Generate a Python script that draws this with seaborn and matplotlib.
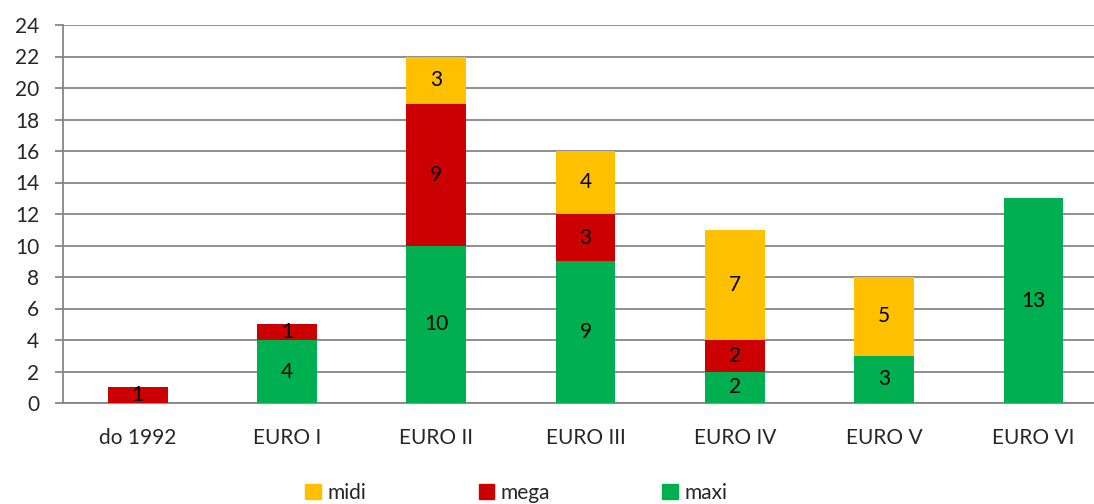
import numpy as np
import pandas as pd
import matplotlib.pyplot as plt
import seaborn as sns
from matplotlib.patches import Patch

categories = ['do 1992', 'EURO I', 'EURO II', 'EURO III', 'EURO IV', 'EURO V', 'EURO VI']
maxi = [0, 4, 10, 9, 2, 3, 13]
mega = [1, 1, 9, 3, 2, 0, 0]
midi = [0, 0, 3, 4, 7, 5, 0]

colors = {'maxi': '#00B050', 'mega': '#CC0000', 'midi': '#FFC000'}
grid_col = '#868686'
fs = 15

sns.set_style('white')
plt.rcParams['font.family'] = ['Lato', 'DejaVu Sans']
plt.rcParams['font.size'] = fs

fig = plt.figure(figsize=(10.94, 5.04), dpi=100)
ax = fig.add_axes([63 / 1094, 101 / 504, 1 - 63 / 1094, 378 / 504])

bottom = np.zeros(len(categories))
for name, vals in [('maxi', maxi), ('mega', mega), ('midi', midi)]:
    sns.barplot(x=categories, y=vals, color=colors[name], width=0.4,
                bottom=bottom, ax=ax, saturation=1, linewidth=0, zorder=3)
    cont = ax.containers[-1]
    ax.bar_label(cont, labels=[str(v) if v else '' for v in vals],
                 label_type='center', fontsize=fs, color='black')
    bottom = bottom + np.array(vals)

ax.set_ylim(0, 24)
ax.set_yticks(range(0, 25, 2))
ax.set_xlim(-0.5, 6.5 - 14 / 149)
ax.yaxis.grid(True, color=grid_col, linewidth=1.3, zorder=0)
ax.set_axisbelow(True)

for s in ['top', 'right']:
    ax.spines[s].set_visible(False)
for s in ['left', 'bottom']:
    ax.spines[s].set_color(grid_col)
    ax.spines[s].set_linewidth(1.3)

ax.set_xticks(np.arange(-0.5, 6.5, 1), minor=True)
ax.tick_params(axis='x', which='major', length=0, pad=18, labelsize=fs)
ax.tick_params(axis='x', which='minor', length=8, width=1.3, color=grid_col, direction='out')
ax.tick_params(axis='y', length=6, width=1.3, color=grid_col, pad=11, labelsize=fs, left=True)

handles = [Patch(color=colors[n], label=n) for n in ['midi', 'mega', 'maxi']]
fig.legend(handles=handles, loc='center', bbox_to_anchor=(0.472, 0.022), ncol=3,
           frameon=False, fontsize=fs, handlelength=0.75, handleheight=0.75,
           handletextpad=0.3, columnspacing=5.4)

fig.savefig('out.png', dpi=100)
